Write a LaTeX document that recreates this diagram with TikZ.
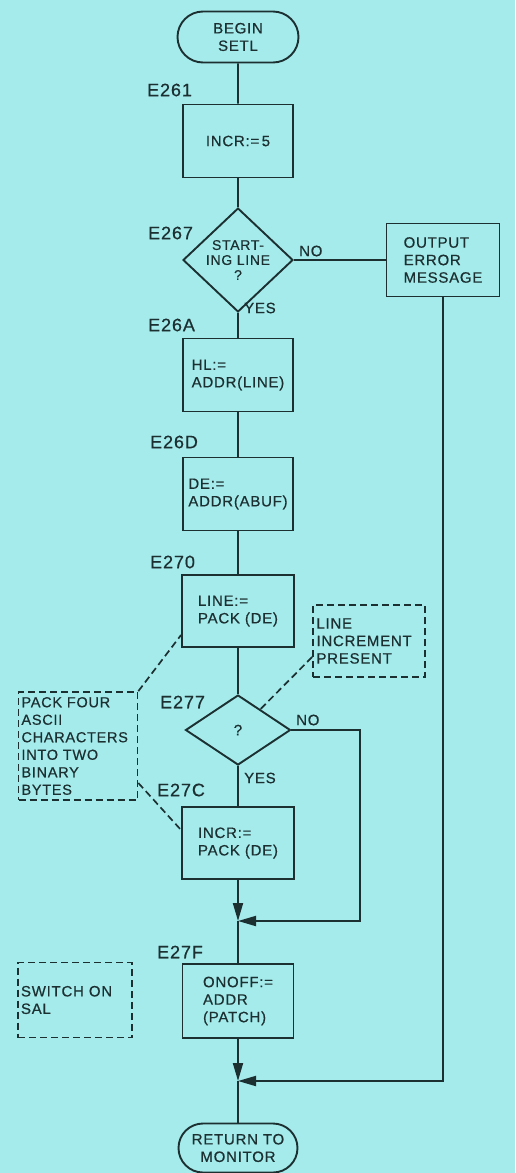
\documentclass[tikz,border=0pt]{standalone}
\usepackage{fontspec}
\setmainfont{Liberation Sans}[LetterSpace=5.0,FakeBold=0.6]
\usetikzlibrary{shapes.geometric,shapes.misc,arrows.meta,calc}
\definecolor{bgc}{RGB}{166,235,235}
\definecolor{ink}{RGB}{28,48,50}
\newcommand{\bxf}{\fontsize{15}{17.5}\selectfont}
\newcommand{\lbf}{\fontsize{18}{20}\selectfont}
\begin{document}
\begin{tikzpicture}[x=1pt,y=-1pt,
  every node/.style={text=ink},
  pbox/.style={draw=ink, line width=1.9pt, minimum width=110pt, minimum height=73pt, inner sep=3pt, align=left, font=\bxf},
  nbox/.style={draw=ink, line width=1.7pt, dash pattern=on 7pt off 4pt, inner sep=3pt, align=left, font=\bxf},
  term/.style={rounded rectangle, draw=ink, line width=1.9pt, inner sep=2pt, align=center, font=\bxf},
  dec/.style={diamond, draw=ink, line width=1.9pt, inner sep=0pt, align=center, font=\bxf},
  lab/.style={anchor=west, font=\lbf, inner sep=0pt},
  small/.style={anchor=west, font=\bxf, inner sep=0pt},
  flow/.style={draw=ink, line width=1.9pt},
  arr/.style={flow, -{Triangle[length=18pt,width=10pt]}},
  link/.style={draw=ink, line width=1.7pt, dash pattern=on 7pt off 4pt}]
\fill[bgc] (0,0) rectangle (515,1173);
\useasboundingbox (0,0) rectangle (515,1173);

% nodes
\node[term, minimum width=125pt, minimum height=51pt] (begin) at (238,37) {BEGIN\\SETL};
\node[pbox] (incr) at (238,141) {INCR:=\,5};
\node[dec, minimum width=110pt, minimum height=74pt, font=\fontsize{14}{15}\selectfont] (d1) at (238,260) {START-\\ING LINE\\?};
\node[pbox, minimum width=113pt] (err) at (443,260) {OUTPUT\\ERROR\\MESSAGE};
\node[pbox] (hl) at (238,375) {HL:=\\ADDR(LINE)};
\node[pbox] (de) at (238,494) {DE:=\\ADDR(ABUF)};
\node[pbox, minimum width=112pt, minimum height=72pt] (line) at (238,611) {LINE:=\\PACK (DE)};
\node[nbox, minimum width=112pt, minimum height=72pt, text width=105pt] (lip) at (369,641) {LINE\\INCREMENT\\PRESENT};
\node[dec, minimum width=105pt, minimum height=70pt] (d2) at (238,730) {?};
\node[nbox, minimum width=119pt, minimum height=108pt, text width=113pt, font=\fontsize{14.5}{17.5}\selectfont] (pack) at (78,746) {PACK FOUR\\ASCII\\CHARACTERS\\INTO TWO\\BINARY\\BYTES};
\node[pbox, minimum width=112pt, minimum height=72pt] (incr2) at (238,843) {INCR:=\\PACK (DE)};
\coordinate (j1) at (238,921);
\node[pbox, minimum width=111pt, minimum height=74pt] (onoff) at (238,1001) {ONOFF:=\\ADDR\\(PATCH)};
\node[nbox, minimum width=114pt, minimum height=75pt, text width=108pt] (sal) at (75,1000) {SWITCH ON\\SAL};
\coordinate (j2) at (238,1081);
\coordinate (c1) at (360,730);
\node[term, minimum width=123pt, minimum height=49pt] (ret) at (238,1148) {RETURN TO\\MONITOR};

% address labels
\node[lab] (l1) at (147,90) {E261};
\node[lab] (l2) at (148,233) {E267};
\node[lab] (l3) at (148,325) {E26A};
\node[lab] (l4) at (150,442) {E26D};
\node[lab] (l5) at (150,562) {E270};
\node[lab] (l6) at (160,702) {E277};
\node[lab] (l7) at (157,790) {E27C};
\node[lab] (l8) at (157,952) {E27F};
\node[small] (no1) at (299,251) {NO};
\node[small] (yes1) at (244,308) {YES};
\node[small] (no2) at (296,720) {NO};
\node[small] (yes2) at (244,778) {YES};

% connectors
\draw[flow] (begin) -- (incr);
\draw[flow] (incr) -- (d1);
\draw[flow] (d1.east) -- (err.west);
\draw[flow] (d1) -- (hl);
\draw[flow] (hl) -- (de);
\draw[flow] (de) -- (line);
\draw[flow] (line) -- (d2);
\draw[flow] (d2) -- (incr2);
\draw[arr] (d2.east) -- (c1) |- (j1);
\draw[arr] (incr2) -- (j1);
\draw[flow] (j1) -- (onoff);
\draw[arr] (onoff) -- (j2);
\draw[arr] (err.south) |- (j2);
\draw[flow] (j2) -- (ret);

% annotation links
\draw[link] (pack.north east) -- ([yshift=-24pt]line.west);
\draw[link] ([yshift=-37pt]pack.east) -- ([yshift=13pt]incr2.west);
\draw[link] ([yshift=-16pt]lip.west) -- ($(d2.north)!0.42!(d2.east)$);
\end{tikzpicture}
\end{document}
